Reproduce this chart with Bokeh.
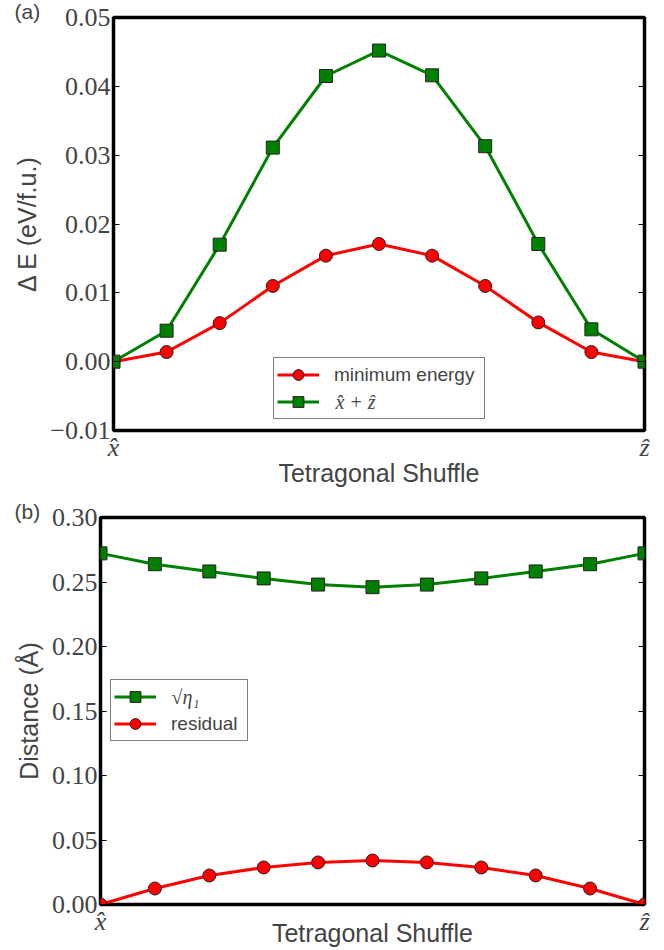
from bokeh.plotting import figure
from bokeh.models import (FixedTicker, LinearAxis, Legend, LegendItem, Label, Range1d)
from bokeh.embed import file_html
from bokeh.resources import INLINE

# ---------------- data ----------------
shuffle_steps = [0, 1, 2, 3, 4, 5, 6, 7, 8, 9, 10]
x_tick_values = [0, 10]
x_tick_labels = ["x\u0302", "z\u0302"]

energy_minimum = [0.0, 0.0014, 0.0056, 0.0110, 0.0154, 0.0171, 0.0154, 0.0110, 0.0057, 0.0014, 0.0]
energy_xz = [0.0, 0.0045, 0.0170, 0.0311, 0.0415, 0.0452, 0.0416, 0.0313, 0.0171, 0.0047, 0.0]
top_y_ticks = [-0.01, 0.0, 0.01, 0.02, 0.03, 0.04, 0.05]
top_y_labels = ["\u22120.01", "0.00", "0.01", "0.02", "0.03", "0.04", "0.05"]

dist_sqrt_eta = [0.2722, 0.2638, 0.2582, 0.2528, 0.2480, 0.2460, 0.2480, 0.2528, 0.2582, 0.2638, 0.2722]
dist_residual = [0.0, 0.0124, 0.0225, 0.0287, 0.0326, 0.0341, 0.0326, 0.0287, 0.0225, 0.0124, 0.0]
bot_y_ticks = [0.0, 0.05, 0.10, 0.15, 0.20, 0.25, 0.30]
bot_y_labels = ["0.00", "0.05", "0.10", "0.15", "0.20", "0.25", "0.30"]

legend_top_labels = ["minimum energy", "x\u0302 + z\u0302"]
legend_bot_labels = ["\u221a\u03b7\u2081", "residual"]

SERIF = "Liberation Serif"
SANS = "Liberation Sans"


def style(p, yt, yl, ylabel, xlabel_standoff, panel_text, panel_offset):
    p.outline_line_color = "black"
    p.outline_line_width = 3.5
    p.grid.visible = False
    p.background_fill_color = "white"
    p.border_fill_color = "white"

    p.title.text = panel_text
    p.title.align = "left"
    p.title.offset = panel_offset
    p.title.standoff = -10
    p.title.text_font = SANS
    p.title.text_font_style = "normal"
    p.title.text_font_size = "21px"

    xa = p.xaxis[0]
    xa.ticker = FixedTicker(ticks=x_tick_values)
    xa.major_label_overrides = {v: l for v, l in zip(x_tick_values, x_tick_labels)}
    xa.major_label_text_font = SERIF
    xa.major_label_text_font_style = "italic"
    xa.major_label_text_font_size = "26px"
    xa.major_label_standoff = 2
    xa.major_tick_in = 0
    xa.major_tick_out = 0
    xa.minor_tick_line_color = None
    xa.axis_line_color = None
    xa.axis_label = "Tetragonal Shuffle"
    xa.axis_label_text_font = SANS
    xa.axis_label_text_font_style = "normal"
    xa.axis_label_text_font_size = "25px"
    xa.axis_label_standoff = xlabel_standoff

    ya = p.yaxis[0]
    ya.ticker = FixedTicker(ticks=yt)
    ya.major_label_overrides = {v: l for v, l in zip(yt, yl)}
    ya.major_label_text_font = SERIF
    ya.major_label_text_font_size = "26px"
    ya.major_label_standoff = 3
    ya.major_tick_in = 6
    ya.major_tick_out = 0
    ya.major_tick_line_width = 1
    ya.minor_tick_line_color = None
    ya.axis_line_color = None
    ya.axis_label = ylabel
    ya.axis_label_text_font = SANS
    ya.axis_label_text_font_style = "normal"
    ya.axis_label_text_font_size = "25px"
    ya.axis_label_standoff = 6

    ra = LinearAxis(ticker=FixedTicker(ticks=yt))
    ra.major_label_overrides = {v: "" for v in yt}
    ra.major_label_text_font_size = "0px"
    ra.major_label_standoff = 0
    ra.major_tick_in = 6
    ra.major_tick_out = 0
    ra.minor_tick_line_color = None
    ra.axis_line_color = None
    p.add_layout(ra, "right")


def series(p, y, color, marker):
    ln = p.line(shuffle_steps, y, line_color=color, line_width=3)
    mk = p.scatter(shuffle_steps, y, marker=marker, size=13, fill_color=color,
                   line_color="#222222", line_width=1)
    return [ln, mk]


def style_legend(lg, label_width):
    lg.border_line_color = "black"
    lg.border_line_width = 1
    lg.background_fill_color = None
    lg.label_text_font = SANS
    lg.label_text_font_size = "19px"
    lg.glyph_width = 42
    lg.glyph_height = 27
    lg.label_height = 27
    lg.label_width = label_width
    lg.label_standoff = 15
    lg.spacing = 0
    lg.padding = 3
    lg.margin = 0


# ---------------- top panel ----------------
p1 = figure(width=664, height=500, output_backend="svg", toolbar_location=None,
            x_range=Range1d(0, 10), y_range=Range1d(-0.01, 0.05),
            min_border_left=113, min_border_right=20, min_border_top=17, min_border_bottom=70)
style(p1, top_y_ticks, top_y_labels, "\u0394 E (eV/f.u.)", -6, "(a)", -99)
r_min = series(p1, energy_minimum, "red", "circle")
r_xz = series(p1, energy_xz, "green", "square")
leg1 = Legend(items=[LegendItem(label=legend_top_labels[0], renderers=r_min),
                     LegendItem(label="\u2007", renderers=r_xz)],
              location=(160, 11))
style_legend(leg1, 147)
p1.add_layout(leg1, "center")
# math-styled legend text (serif italic), drawn in the blank legend slot
p1.add_layout(Label(x=4.18, y=-0.0059, text=legend_top_labels[1],
                    text_font=SERIF, text_font_style="italic", text_font_size="20px",
                    text_baseline="middle"))

# ---------------- bottom panel ----------------
p2 = figure(width=664, height=450, output_backend="svg", toolbar_location=None,
            x_range=Range1d(0, 10), y_range=Range1d(0, 0.30),
            min_border_left=100, min_border_right=20, min_border_top=17, min_border_bottom=46)
style(p2, bot_y_ticks, bot_y_labels, "Distance (\u00c5)", -20, "(b)", -86)
r_eta = series(p2, dist_sqrt_eta, "green", "square")
r_res = series(p2, dist_residual, "red", "circle")
leg2 = Legend(items=[LegendItem(label="\u2007", renderers=r_eta),
                     LegendItem(label=legend_bot_labels[1], renderers=r_res)],
              location=(10, 163))
style_legend(leg2, 73)
p2.add_layout(leg2, "center")
p2.add_layout(Label(x=1.305, y=0.1612, text=legend_bot_labels[0],
                    text_font=SERIF, text_font_style="italic", text_font_size="20px",
                    text_baseline="middle"))

open("out.html", "w").write(file_html([p1, p2], INLINE))
